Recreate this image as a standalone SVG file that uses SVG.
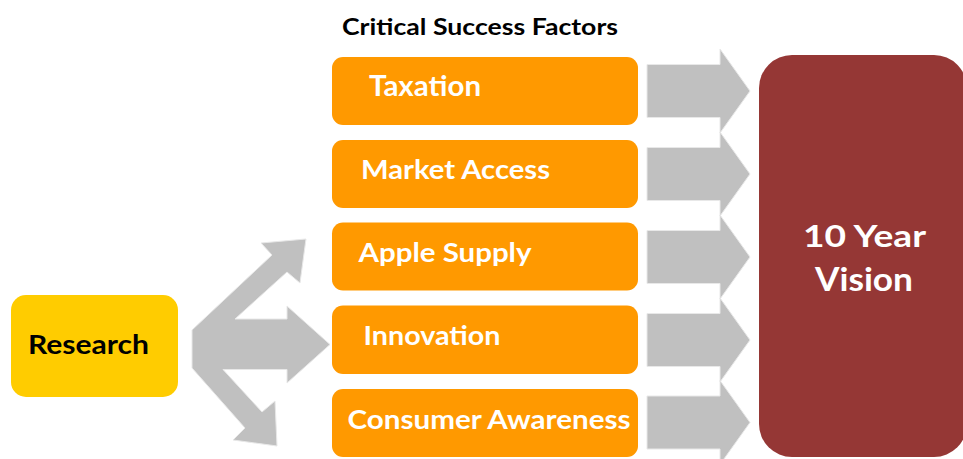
<svg xmlns="http://www.w3.org/2000/svg" width="963" height="459" viewBox="0 0 963 459">
<defs>
<style>
.t{font-family:Lato,"Open Sans","Liberation Sans",sans-serif;font-weight:700}
.w{fill:#ffffff}
.k{fill:#000000}
.csf{fill:#FF9900}
.arr{fill:#C0C0C0;stroke:#E8E8E8;stroke-width:1}
</style>
<path id="rarrow" d="M0,-26.5 H73 V-42 L103,0 L73,42 V26.5 H0 Z"/>
</defs>
<rect width="963" height="459" fill="#ffffff"/>
<text class="t k" x="342" y="35" font-size="23" textLength="276" lengthAdjust="spacingAndGlyphs">Critical Success Factors</text>

<g id="connectors">
<path class="arr" d="M192,330 L272,255 L261,243 L306,239 L300,283 L287,272 L235,319 L287,319 L287,306 L330,344.5 L287,383 L287,369.5 L223,369.5 L262,412 L275,401 L277,446 L233,440 L245,428 L192,368 Z"/>
<use href="#rarrow" class="arr" x="647" y="91"/>
<use href="#rarrow" class="arr" x="647" y="174"/>
<use href="#rarrow" class="arr" x="647" y="257"/>
<use href="#rarrow" class="arr" x="647" y="340"/>
<use href="#rarrow" class="arr" x="647" y="422.5"/>
</g>

<g id="research">
<rect x="11" y="295" width="167" height="102" rx="15" fill="#FFCC00"/>
<text class="t k" x="28" y="354" font-size="26" textLength="121" lengthAdjust="spacingAndGlyphs">Research</text>
</g>

<g id="taxation">
<rect class="csf" x="332" y="57" width="306" height="68" rx="11"/>
<text class="t w" x="369" y="96" font-size="29" textLength="112" lengthAdjust="spacingAndGlyphs">Taxation</text>
</g>
<g id="market-access">
<rect class="csf" x="332" y="140" width="306" height="68" rx="11"/>
<text class="t w" x="361" y="178.5" font-size="26" textLength="189" lengthAdjust="spacingAndGlyphs">Market Access</text>
</g>
<g id="apple-supply">
<rect class="csf" x="332" y="222.5" width="306" height="68" rx="11"/>
<text class="t w" x="358.5" y="261.5" font-size="26" textLength="173" lengthAdjust="spacingAndGlyphs">Apple Supply</text>
</g>
<g id="innovation">
<rect class="csf" x="332" y="305.5" width="306" height="68.5" rx="11"/>
<text class="t w" x="363.5" y="345" font-size="26" textLength="137" lengthAdjust="spacingAndGlyphs">Innovation</text>
</g>
<g id="consumer-awareness">
<rect class="csf" x="332" y="389" width="306" height="68" rx="11"/>
<text class="t w" x="347.5" y="428.5" font-size="26" textLength="283" lengthAdjust="spacingAndGlyphs">Consumer Awareness</text>
</g>

<g id="vision">
<rect x="759" y="55" width="208" height="402" rx="33" fill="#953735"/>
<text class="t w" x="803" y="247" font-size="30" textLength="123" lengthAdjust="spacingAndGlyphs">10 Year</text>
<text class="t w" x="815" y="290.5" font-size="32" textLength="98" lengthAdjust="spacingAndGlyphs">Vision</text>
</g>
</svg>
